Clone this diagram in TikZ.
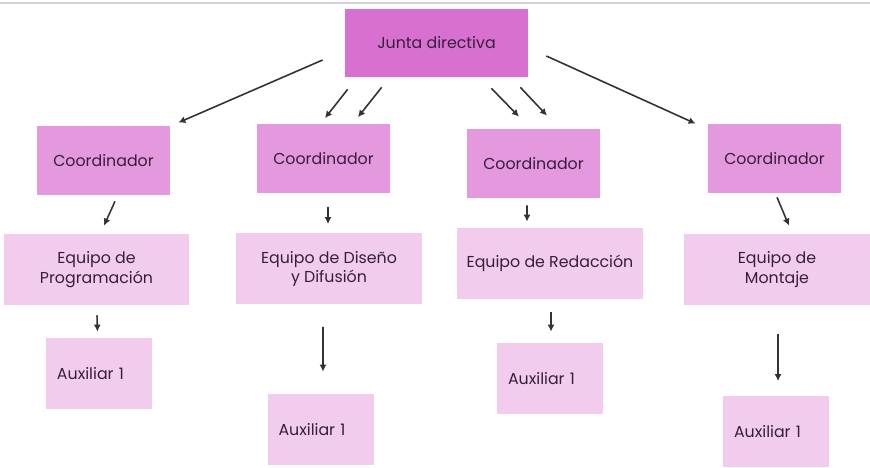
\documentclass[tikz,border=0pt]{standalone}
\usepackage{fontspec}
\setmainfont{Poppins}
\usetikzlibrary{positioning}
\usetikzlibrary{arrows.meta}
\definecolor{juntacol}{RGB}{215,112,206}
\definecolor{coordcol}{RGB}{228,152,221}
\definecolor{equipocol}{RGB}{241,204,236}
\definecolor{txtcol}{RGB}{55,30,60}
\definecolor{arrcol}{RGB}{50,50,50}

\begin{document}
\begin{tikzpicture}[
    box/.style={rectangle, inner sep=0pt, align=center, text=txtcol, font=\fontsize{9}{11}\selectfont},
    jbox/.style={box, fill=juntacol, minimum width=3.66cm, minimum height=1.36cm},
    cbox/.style={box, fill=coordcol, minimum width=2.66cm, minimum height=1.38cm},
    ebox/.style={box, fill=equipocol, minimum width=3.71cm, minimum height=1.42cm},
    abox/.style={box, fill=equipocol, minimum height=1.42cm, text width=1.68cm, inner xsep=0.22cm, align=left},
    arr/.style={arrcol, line width=0.9pt, arrows = {-Latex[width=4pt, length=4pt]}}
  ]
  \useasboundingbox (0,0) rectangle (17.4,9.36);
  \draw[gray!35, line width=0.8pt] (0,9.30) -- (17.4,9.30);

  \node[jbox] (junta) at (8.73,8.50) {Junta directiva};

  \node[cbox] (coordA) at (2.07,6.15) {Coordinador};
  \node[cbox] (coordB) at (6.47,6.18) {Coordinador};
  \node[cbox] (coordC) at (10.67,6.09) {Coordinador};
  \node[cbox] (coordD) at (15.49,6.19) {Coordinador};

  \node[ebox] (progr) at (1.93,3.97) {Equipo de\\Programación};
  \node[ebox] (diseno) at (6.58,3.98) {Equipo de Diseño\\y Difusión};
  \node[ebox] (redac) at (11.00,4.09) {Equipo de Redacción};
  \node[ebox] (montaje) at (15.54,3.97) {Equipo de\\Montaje};

  \node[abox] (auxA) at (1.98,1.89) {Auxiliar 1};
  \node[abox] (auxB) at (6.41,0.77) {Auxiliar 1};
  \node[abox] (auxC) at (11.00,1.79) {Auxiliar 1};
  \node[abox] (auxD) at (15.52,0.72) {Auxiliar 1};

  % junta to coordinators
  \draw[arr] ([shift={(-0.44,-0.34)}]junta.west) -- ([shift={(0.16,0.06)}]coordA.north east);
  \draw[arr] ([shift={(0.06,-0.24)}]junta.south west) -- ([shift={(0.03,0.12)}]coordB.north);
  \draw[arr] ([shift={(0.74,-0.20)}]junta.south west) -- ([shift={(0.69,0.14)}]coordB.north);
  \draw[arr] ([shift={(-0.74,-0.22)}]junta.south east) -- ([shift={(-0.29,0.24)}]coordC.north);
  \draw[arr] ([shift={(-0.16,-0.20)}]junta.south east) -- ([shift={(0.27,0.26)}]coordC.north);
  \draw[arr] ([shift={(0.36,-0.26)}]junta.east) -- ([shift={(-0.24,0)}]coordD.north west);

  % coordinators to teams
  \draw[arr] ([shift={(0.23,-0.12)}]coordA.south) -- ([shift={(0.15,0.16)}]progr.north);
  \draw[arr] ([shift={(0.09,-0.26)}]coordB.south) -- ([shift={(-0.02,0.18)}]diseno.north);
  \draw[arr] ([shift={(-0.13,-0.14)}]coordC.south) -- ([shift={(-0.46,0.12)}]redac.north);
  \draw[arr] ([shift={(0.05,-0.08)}]coordD.south) -- ([shift={(0.24,0.16)}]montaje.north);

  % teams to auxiliaries
  \draw[arr] ([shift={(0.01,-0.20)}]progr.south) -- ([shift={(-0.03,0.12)}]auxA.north);
  \draw[arr] ([shift={(-0.12,-0.44)}]diseno.south) -- ([shift={(0.05,0.44)}]auxB.north);
  \draw[arr] ([shift={(0.02,-0.26)}]redac.south) -- ([shift={(0.02,0.22)}]auxC.north);
  \draw[arr] ([shift={(0.02,-0.58)}]montaje.south) -- ([shift={(0.04,0.30)}]auxD.north);
\end{tikzpicture}
\end{document}
